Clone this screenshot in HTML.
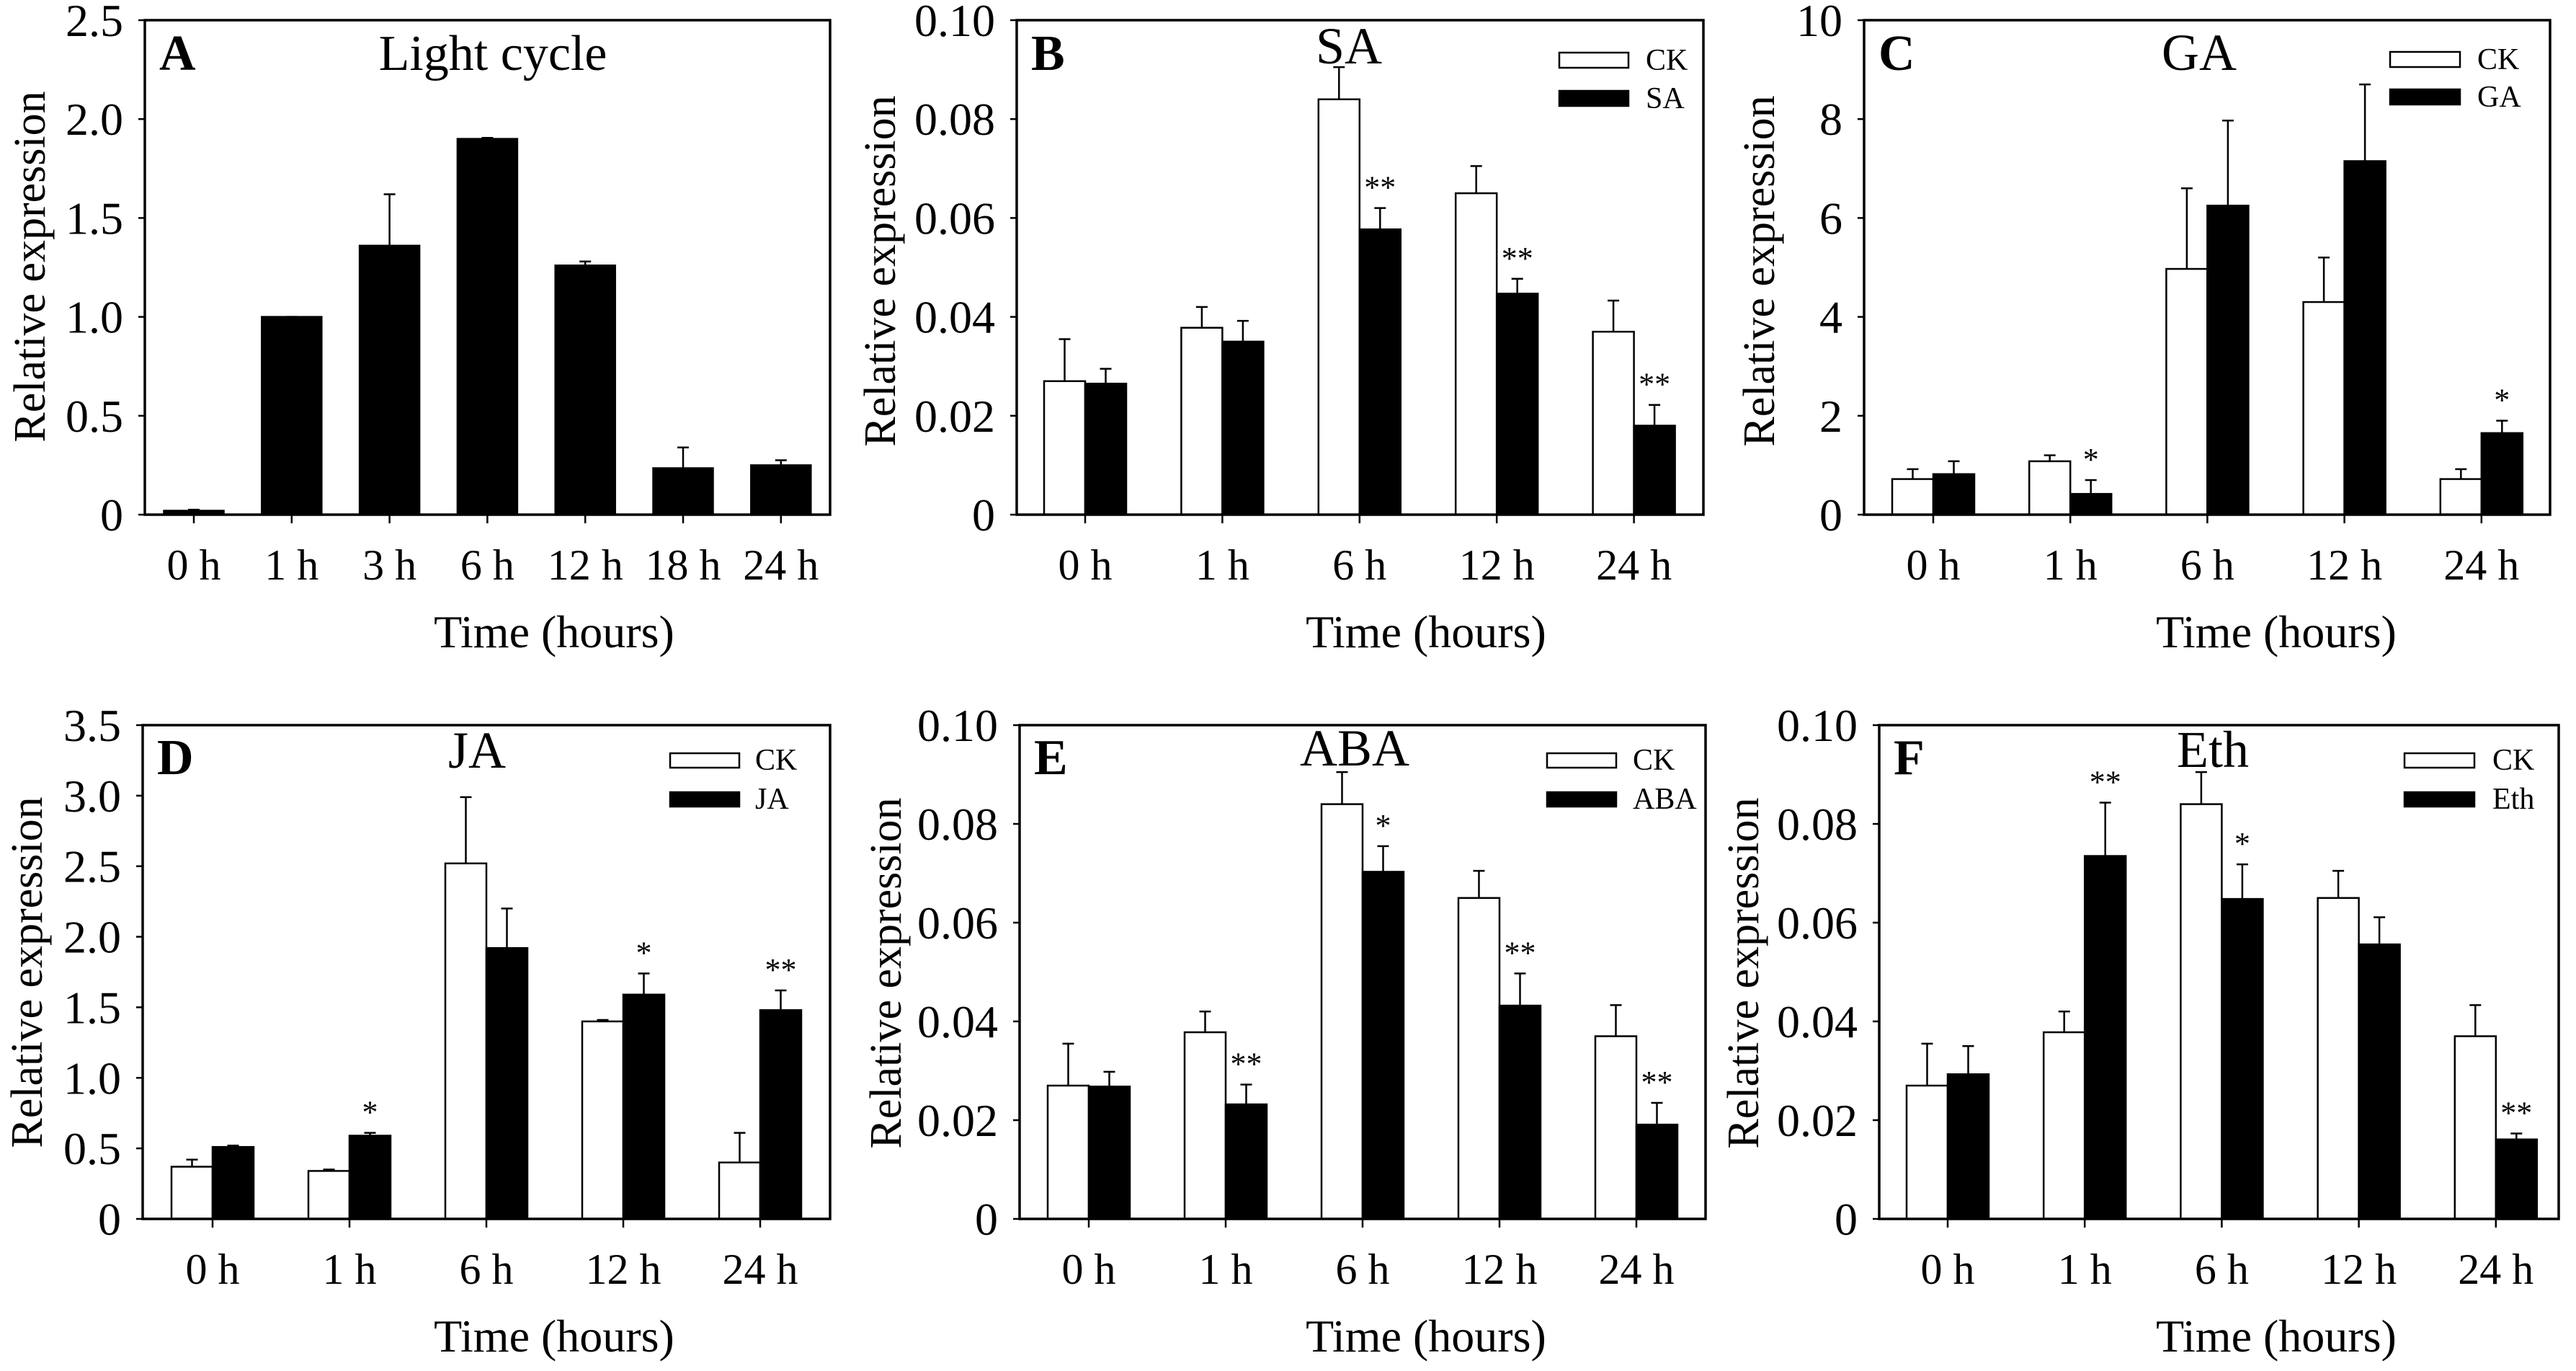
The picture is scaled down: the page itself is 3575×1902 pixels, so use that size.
<!DOCTYPE html>
<html><head><meta charset="utf-8"><style>
html,body{margin:0;padding:0;background:#fff;}
svg{display:block;}
svg text{font-family:"Liberation Serif","Times New Roman",serif;}
</style></head><body>
<svg id="fig" width="3575" height="1902" viewBox="0 0 3575 1902" xmlns="http://www.w3.org/2000/svg" font-family="Liberation Serif, serif">
<rect x="0" y="0" width="3575" height="1902" fill="#fff"/>
</svg>
<script>
// ---- data ----
const catsA = ["0 h","1 h","3 h","6 h","12 h","18 h","24 h"];
const valsA = [0.02,1.0,1.36,1.90,1.26,0.235,0.25];
const errA  = [0.025,1.0,1.62,1.905,1.28,0.34,0.275];
const catsT = ["0 h","1 h","6 h","12 h","24 h"];
const ckSmall = [0.027,0.0378,0.084,0.065,0.037];
const ckSmallErr = [0.0355,0.042,0.0905,0.0705,0.0433];
const saVals = [0.0265,0.035,0.0577,0.0447,0.018];
const saErr  = [0.0295,0.0392,0.062,0.0477,0.0222];
const saStars = ["","","**","**","**"];
const gaCk = [0.72,1.08,4.97,4.3,0.72];
const gaCkErr = [0.92,1.2,6.6,5.2,0.92];
const gaVals = [0.82,0.42,6.25,7.15,1.65];
const gaErr = [1.08,0.7,7.97,8.7,1.9];
const gaStars = ["","*","","","*"];
const jaCk = [0.37,0.34,2.52,1.40,0.40];
const jaCkErr = [0.42,0.35,2.99,1.41,0.61];
const jaVals = [0.51,0.59,1.92,1.59,1.48];
const jaErr = [0.52,0.61,2.2,1.74,1.62];
const jaStars = ["","*","","*","**"];
const abaVals = [0.0268,0.0232,0.0703,0.0432,0.0191];
const abaErr = [0.0298,0.0272,0.0755,0.0497,0.0235];
const abaStars = ["","**","*","**","**"];
const ethVals = [0.0293,0.0735,0.0648,0.0556,0.0161];
const ethErr = [0.035,0.0843,0.0718,0.0611,0.0173];
const ethStars = ["","**","*","","**"];
const ticksA = [0,0.5,1.0,1.5,2.0,2.5];
const tickLabA = ["0","0.5","1.0","1.5","2.0","2.5"];
const ticksSmall = [0,0.02,0.04,0.06,0.08,0.10];
const tickLabSmall = ["0","0.02","0.04","0.06","0.08","0.10"];
const ticksGA = [0,2,4,6,8,10];
const tickLabGA = ["0","2","4","6","8","10"];
const ticksJA = [0,0.5,1.0,1.5,2.0,2.5,3.0,3.5];
const tickLabJA = ["0","0.5","1.0","1.5","2.0","2.5","3.0","3.5"];

const NS="http://www.w3.org/2000/svg";
const svg=document.getElementById('fig');
const FF='"Liberation Serif", "Times New Roman", serif';
function mk(tag,attrs,parent,text){const e=document.createElementNS(NS,tag);for(const k in attrs)e.setAttribute(k,attrs[k]);if(text!==undefined){e.textContent=text;e.setAttribute('font-family',FF);e.style.fontFamily=FF;}(parent||svg).appendChild(e);return e;}

function panel(p){
  const g=mk('g',{});
  
  
  const ymap=v=>p.bottom-(v/p.ymax)*(p.bottom-p.top);
  const xmap=i=>p.x0+i*p.dx;
  p.series.forEach((s,si)=>{
    s.vals.forEach((v,i)=>{
      let bx;
      if(p.series.length===1) bx=xmap(i)-p.bw/2; else bx= si===0? xmap(i)-p.bw : xmap(i);
      const yt=ymap(v);
      const r=mk('rect',{x:bx,y:yt,width:p.bw,height:p.bottom-yt,fill:s.fill,stroke:'#000','stroke-width':2.5},g);
      
      
      const cx=bx+p.bw/2, ye=ymap(s.err[i]);
      const eb=mk('path',{d:`M${cx} ${yt}V${ye}M${cx-8} ${ye}H${cx+8}`,stroke:'#000','stroke-width':2.5,fill:'none'},g);
      
      
      if(s.stars && s.stars[i]){
        const st=mk('text',{x:cx,y:ye-14,'text-anchor':'middle','font-size':44},g,s.stars[i]);
        
        
      }
    });
  });
  const fr=mk('rect',{x:p.left,y:p.top,width:p.right-p.left,height:p.bottom-p.top,fill:'none',stroke:'#000','stroke-width':3.5},g);
  
  
  p.ticks.forEach((t,i)=>{
    const y=ymap(t);
    mk('line',{x1:p.left-9,x2:p.left,y1:y,y2:y,stroke:'#000','stroke-width':2.5},g);
    const tl=mk('text',{x:p.left-30,y:y+22,'text-anchor':'end','font-size':64},g,p.tickLab[i]);
    
    
  });
  p.cats.forEach((c,i)=>{
    const x=xmap(i);
    mk('line',{x1:x,x2:x,y1:p.bottom,y2:p.bottom+12,stroke:'#000','stroke-width':2.5},g);
    const tl=mk('text',{x:x,y:p.bottom+90,'text-anchor':'middle','font-size':60},g,c);
    
    
  });
  const xt=mk('text',{x:p.xtx,y:p.bottom+184,'text-anchor':'middle','font-size':64},g,'Time (hours)');
  
  
  const yt=mk('text',{x:0,y:0,'text-anchor':'middle','font-size':62,transform:`translate(${p.ytx+20},${p.yty}) rotate(-90)`},g,'Relative expression');
  
  
  const lt=mk('text',{x:p.left+20,y:p.letterY,'font-size':70,'font-weight':'bold'},g,p.id);
  
  
  const ti=mk('text',{x:p.titleX,y:p.titleY,'text-anchor':'middle','font-size':p.titleSize||72},g,p.title);
  
  
  if(p.legend){
    const L=p.legend;
    const lg=mk('g',{},g);
    
    
    const r1=mk('rect',{x:L.x,y:L.y1,width:L.w,height:L.h,fill:'#fff',stroke:'#000','stroke-width':2.5},lg);
    
    
    const r2=mk('rect',{x:L.x,y:L.y2,width:L.w,height:L.h,fill:'#000',stroke:'#000','stroke-width':2.5},lg);
    
    
    const t1=mk('text',{x:L.tx,y:L.y1+L.h+3,'font-size':42},lg,'CK');
    
    
    const t2=mk('text',{x:L.tx,y:L.y2+L.h+3,'font-size':42},lg,p.title);
    
    
  }
}
const topT=28, topB=714, botT=1006, botB=1691;
panel({id:'A',title:'Light cycle',left:201,right:1152,top:topT,bottom:topB,ymax:2.5,ticks:ticksA,tickLab:tickLabA,
  cats:catsA,x0:269,dx:135.8,bw:83,series:[{name:'light',vals:valsA,err:errA,fill:'#000'}],
  xtx:769,ytx:42,yty:370,letterY:97,titleX:684,titleY:97,titleSize:70});
panel({id:'B',title:'SA',left:1411,right:2364,top:topT,bottom:topB,ymax:0.10,ticks:ticksSmall,tickLab:tickLabSmall,
  cats:catsT,x0:1506,dx:190.4,bw:57,series:[{name:'ck',vals:ckSmall,err:ckSmallErr,fill:'#fff'},{name:'sa',vals:saVals,err:saErr,fill:'#000',stars:saStars}],
  xtx:1979,ytx:1222,yty:376,letterY:97,titleX:1872,titleY:88,
  legend:{x:2164,w:96,h:21,y1:73,y2:126,tx:2284}});
panel({id:'C',title:'GA',left:2587,right:3539,top:topT,bottom:topB,ymax:10,ticks:ticksGA,tickLab:tickLabGA,
  cats:catsT,x0:2683,dx:190.2,bw:57,series:[{name:'ck',vals:gaCk,err:gaCkErr,fill:'#fff'},{name:'ga',vals:gaVals,err:gaErr,fill:'#000',stars:gaStars}],
  xtx:3159,ytx:2442,yty:376,letterY:97,titleX:3052,titleY:97,
  legend:{x:3317,w:97,h:21,y1:72,y2:124,tx:3438}});
panel({id:'D',title:'JA',left:198,right:1152,top:botT,bottom:botB,ymax:3.5,ticks:ticksJA,tickLab:tickLabJA,
  cats:catsT,x0:295,dx:190,bw:57,series:[{name:'ck',vals:jaCk,err:jaCkErr,fill:'#fff'},{name:'ja',vals:jaVals,err:jaErr,fill:'#000',stars:jaStars}],
  xtx:769,ytx:38,yty:1349,letterY:1074,titleX:662,titleY:1065,
  legend:{x:930,w:96,h:20,y1:1045,y2:1099,tx:1048}});
panel({id:'E',title:'ABA',left:1415,right:2367,top:botT,bottom:botB,ymax:0.10,ticks:ticksSmall,tickLab:tickLabSmall,
  cats:catsT,x0:1511,dx:190,bw:57,series:[{name:'ck',vals:ckSmall,err:ckSmallErr,fill:'#fff'},{name:'aba',vals:abaVals,err:abaErr,fill:'#000',stars:abaStars}],
  xtx:1979,ytx:1230,yty:1350,letterY:1074,titleX:1880,titleY:1062,
  legend:{x:2147,w:96,h:20,y1:1045,y2:1099,tx:2266}});
panel({id:'F',title:'Eth',left:2608,right:3551,top:botT,bottom:botB,ymax:0.10,ticks:ticksSmall,tickLab:tickLabSmall,
  cats:catsT,x0:2703,dx:190.2,bw:57,series:[{name:'ck',vals:ckSmall,err:ckSmallErr,fill:'#fff'},{name:'eth',vals:ethVals,err:ethErr,fill:'#000',stars:ethStars}],
  xtx:3159,ytx:2420,yty:1350,letterY:1074,titleX:3071,titleY:1064,
  legend:{x:3337,w:97,h:20,y1:1045,y2:1099,tx:3459}});
</script>
</body></html>
